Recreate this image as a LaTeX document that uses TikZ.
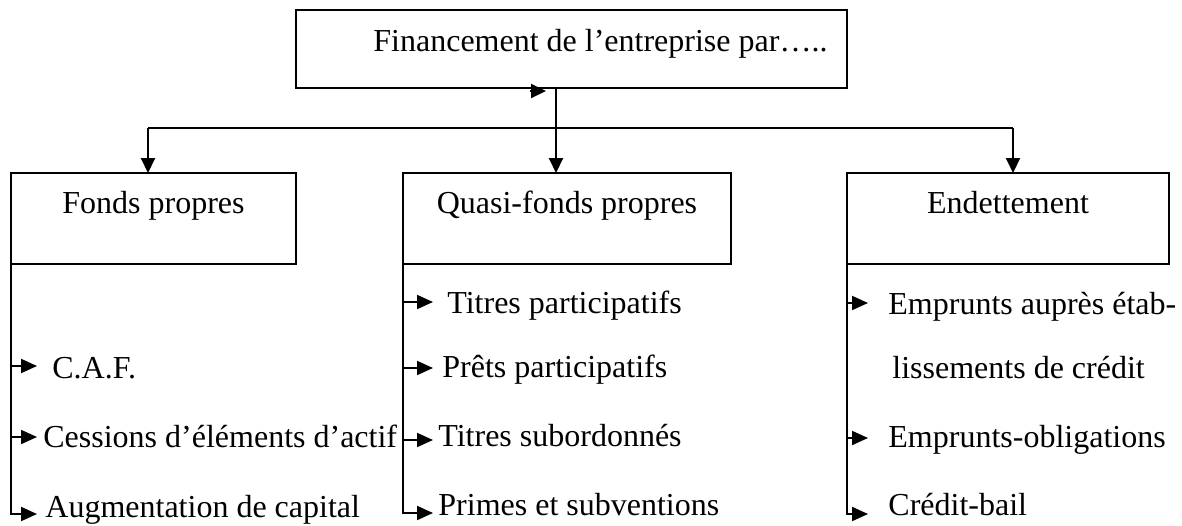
\documentclass[tikz,border=0pt]{standalone}
\usepackage{fontspec}
\setmainfont{Liberation Serif}
\usetikzlibrary{arrows.meta}

\tikzset{
  boite/.style={draw, line width=1pt, inner sep=0pt, outer sep=0pt},
  titre/.style={anchor=base, inner sep=0pt},
  item/.style={anchor=base west, inner sep=0pt},
  trait/.style={line width=1pt},
  fleche/.style={line width=1pt, -{Triangle[length=7.5pt,width=7pt]}},
  puce/.style={line width=1pt, -{Triangle[length=8pt,width=7pt]}},
}

\begin{document}
\begin{tikzpicture}[x=0.5pt, y=-0.5pt, font=\fontsize{16}{19}\selectfont]
  \useasboundingbox (0,0) rectangle (1182,525);

  % boites
  \node[boite, minimum width=275.5pt, minimum height=39pt] (fin) at (571.5,49) {};
  \node[boite, minimum width=142.5pt, minimum height=45.5pt] (fp) at (153.5,218.5) {};
  \node[boite, minimum width=164pt, minimum height=45.5pt] (qfp) at (567,218.5) {};
  \node[boite, minimum width=161pt, minimum height=45.5pt] (dette) at (1008,218.5) {};

  \node[item] (tfin) at (373,51) {Financement de l’entreprise par…..};
  \node[titre] (tfp) at (153.5,213) {Fonds propres};
  \node[titre] (tqfp) at (567,213) {Quasi-fonds propres};
  \node[titre] (tdette) at (1008,213) {Endettement};

  % liaisons du haut
  \coordinate (jg) at (148,128);
  \coordinate (jm) at (556,128);
  \coordinate (jd) at (1013,128);
  \coordinate (ha) at (530,91);
  \coordinate (hb) at (546,91);
  \draw[fleche] (ha) -- (hb);
  \draw[trait] (jg) -- (jd);
  \draw[fleche] (fin.south -| jm) -- (qfp.north -| jm);
  \draw[fleche] (jg) -- (fp.north -| jg);
  \draw[fleche] (jd) -- (dette.north -| jd);

  % fonds propres
  \coordinate (pcaf) at (37,366);
  \coordinate (pcess) at (37,437);
  \coordinate (paug) at (37,514);
  \node[item] (caf) at (52,378) {C.A.F.};
  \node[item] (cess) at (43,447) {Cessions d’éléments d’actif};
  \node[item] (aug) at (45,517) {Augmentation de capital};
  \draw[puce] (fp.south west) -- (fp.south west |- paug) -- (paug);
  \draw[puce] (fp.south west |- pcaf) -- (pcaf);
  \draw[puce] (fp.south west |- pcess) -- (pcess);

  % quasi-fonds propres
  \coordinate (ptp) at (433,302);
  \coordinate (ppp) at (433,368);
  \coordinate (pts) at (433,440);
  \coordinate (pps) at (433,513);
  \node[item] (tp) at (447,313) {Titres participatifs};
  \node[item] (pp) at (442,377) {Prêts participatifs};
  \node[item] (ts) at (438,446) {Titres subordonnés};
  \node[item] (ps) at (438,515) {Primes et subventions};
  \draw[puce] (qfp.south west) -- (qfp.south west |- pps) -- (pps);
  \draw[puce] (qfp.south west |- ptp) -- (ptp);
  \draw[puce] (qfp.south west |- ppp) -- (ppp);
  \draw[puce] (qfp.south west |- pts) -- (pts);

  % endettement
  \coordinate (pemp) at (868,303);
  \coordinate (pobl) at (868,438);
  \coordinate (pcb) at (868,514);
  \node[item] (emp) at (888,314) {Emprunts auprès étab-};
  \node[item] (lis) at (892,378) {lissements de crédit};
  \node[item] (obl) at (888,447) {Emprunts-obligations};
  \node[item] (cb) at (888,515) {Crédit-bail};
  \draw[puce] (dette.south west) -- (dette.south west |- pcb) -- (pcb);
  \draw[puce] (dette.south west |- pemp) -- (pemp);
  \draw[puce] (dette.south west |- pobl) -- (pobl);
\end{tikzpicture}
\end{document}
